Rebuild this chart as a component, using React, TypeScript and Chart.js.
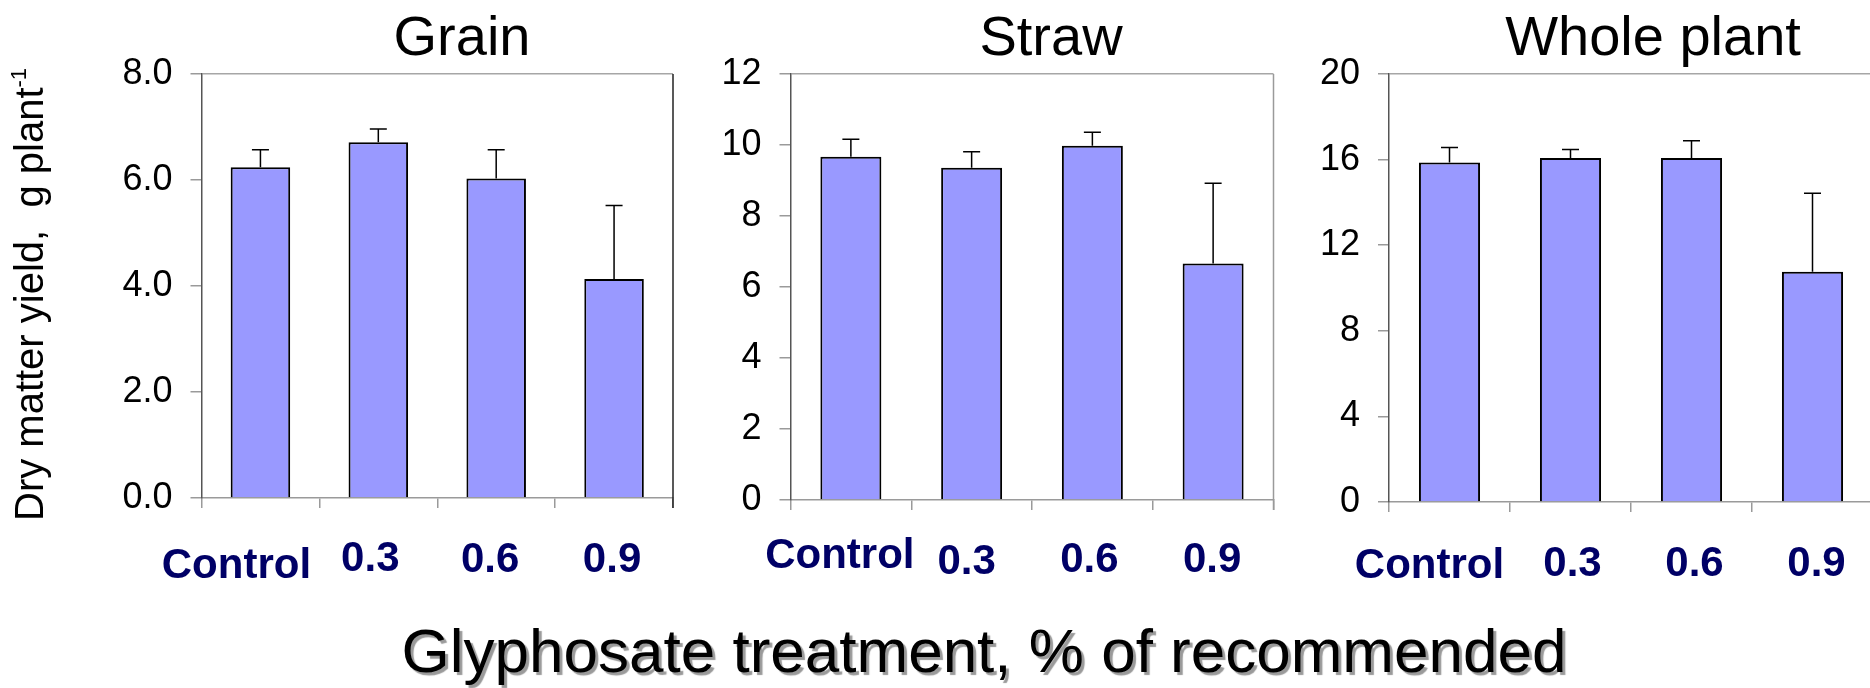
import React, { useEffect, useRef } from 'react';
import { Chart, registerables } from 'chart.js';

Chart.register(...registerables);

// Treatment categories (glyphosate, % of recommended rate)
const categories = ['Control', '0.3', '0.6', '0.9'];

// Dry matter yield (g plant-1), means and upper standard errors
const grainValues = [6.24, 6.71, 6.03, 4.13];
const grainErrors = [0.33, 0.25, 0.54, 1.39];
const strawValues = [9.67, 9.36, 9.98, 6.66];
const strawErrors = [0.49, 0.45, 0.38, 2.26];
const wholeValues = [15.86, 16.07, 16.07, 10.76];
const wholeErrors = [0.71, 0.4, 0.81, 3.67];

// Y-axis tick values for each panel
const grainTicks = [0, 2, 4, 6, 8];
const strawTicks = [0, 2, 4, 6, 8, 10, 12];
const wholeTicks = [0, 4, 8, 12, 16, 20];

const panelTitles = ['Grain', 'Straw', 'Whole plant'];
const yAxisTitle = 'Dry matter yield,  g plant';
const yAxisTitleSup = '-1';
const xAxisTitle = 'Glyphosate treatment, % of recommended';

const PAGE_W = 1870;
const PAGE_H = 688;
const CANVAS_W = 1880;
const FONT = '"Liberation Sans", Arial, Helvetica, sans-serif';
const Y_AXIS_W = 100;
const X_AXIS_H = 20;

type PanelCfg = {
  title: string;
  values: number[];
  errors: number[];
  ticks: number[];
  decimals: number;
  area: { left: number; right: number; top: number; bottom: number };
  rightBorder: string;
  labelDx: number[];
  labelBaseline: number[];
  titleX: number;
};

const panels: PanelCfg[] = [
  {
    title: panelTitles[0],
    values: grainValues,
    errors: grainErrors,
    ticks: grainTicks,
    decimals: 1,
    area: { left: 201.5, right: 673, top: 74, bottom: 498 },
    rightBorder: '#222222',
    labelDx: [-24, -8, -6, -2],
    labelBaseline: [578, 571, 572, 572],
    titleX: 462,
  },
  {
    title: panelTitles[1],
    values: strawValues,
    errors: strawErrors,
    ticks: strawTicks,
    decimals: 0,
    area: { left: 790.5, right: 1273.5, top: 74, bottom: 500 },
    rightBorder: '#9a9a9a',
    labelDx: [-11, -5, -3, -1],
    labelBaseline: [568, 574, 572, 572],
    titleX: 1051,
  },
  {
    title: panelTitles[2],
    values: wholeValues,
    errors: wholeErrors,
    ticks: wholeTicks,
    decimals: 0,
    area: { left: 1389, right: 1873, top: 74, bottom: 502 },
    rightBorder: '#9a9a9a',
    labelDx: [-20, 2, 3, 4],
    labelBaseline: [578, 576, 576, 576],
    titleX: 1653,
  },
];

function BarPanel({ cfg }: { cfg: PanelCfg }) {
  const ref = useRef<HTMLCanvasElement>(null);

  useEffect(() => {
    const canvas = ref.current;
    if (!canvas) return;
    const max = cfg.ticks[cfg.ticks.length - 1];

    // Upper error bars with a short cap
    const errorBars = {
      id: 'errorBars',
      afterDatasetsDraw(chart: any) {
        const ctx = chart.ctx;
        const yScale = chart.scales.y;
        const meta = chart.getDatasetMeta(0);
        ctx.save();
        ctx.strokeStyle = '#000000';
        ctx.lineWidth = 1.5;
        meta.data.forEach((bar: any, i: number) => {
          const top = yScale.getPixelForValue(cfg.values[i] + cfg.errors[i]);
          ctx.beginPath();
          ctx.moveTo(bar.x, bar.y);
          ctx.lineTo(bar.x, top);
          ctx.moveTo(bar.x - 8.5, top);
          ctx.lineTo(bar.x + 8.5, top);
          ctx.stroke();
        });
        ctx.restore();
      },
    };

    // Right-hand frame line and the bold category labels
    const frameAndLabels = {
      id: 'frameAndLabels',
      afterDraw(chart: any) {
        const ctx = chart.ctx;
        const area = chart.chartArea;
        const xScale = chart.scales.x;
        ctx.save();
        ctx.strokeStyle = cfg.rightBorder;
        ctx.lineWidth = 1.5;
        ctx.beginPath();
        ctx.moveTo(area.right, area.top);
        ctx.lineTo(area.right, area.bottom + 10);
        ctx.stroke();

        ctx.fillStyle = '#000066';
        ctx.font = `bold 42px ${FONT}`;
        ctx.textAlign = 'center';
        ctx.textBaseline = 'alphabetic';
        categories.forEach((label, i) => {
          const x = xScale.getPixelForValue(i) + cfg.labelDx[i];
          ctx.fillText(label, x, cfg.labelBaseline[i]);
        });
        ctx.restore();
      },
    };

    const chart = new Chart(canvas, {
      type: 'bar',
      data: {
        labels: categories,
        datasets: [
          {
            data: cfg.values,
            backgroundColor: '#9999ff',
            borderColor: '#000000',
            borderWidth: 2,
            barPercentage: 0.505,
            categoryPercentage: 1,
          },
        ],
      },
      options: {
        responsive: false,
        animation: false,
        devicePixelRatio: 1,
        events: [],
        layout: {
          padding: {
            left: cfg.area.left - Y_AXIS_W,
            right: CANVAS_W - cfg.area.right,
            top: cfg.area.top,
            bottom: PAGE_H - cfg.area.bottom - X_AXIS_H,
          },
        },
        plugins: {
          legend: { display: false },
          tooltip: { enabled: false },
          title: { display: false },
        },
        scales: {
          x: {
            type: 'category',
            offset: true,
            grid: {
              offset: true,
              drawOnChartArea: false,
              drawTicks: true,
              tickLength: 10,
              color: '#9a9a9a',
              tickColor: '#9a9a9a',
              lineWidth: 1.5,
            },
            border: { display: true, color: '#9a9a9a', width: 1.5 },
            ticks: { display: false },
            afterFit: (s: any) => {
              s.height = X_AXIS_H;
            },
          },
          y: {
            min: 0,
            max,
            afterBuildTicks: (s: any) => {
              s.ticks = cfg.ticks.map((v) => ({ value: v }));
            },
            ticks: {
              color: '#000000',
              padding: 18,
              font: { family: FONT, size: 36 },
              callback: (v: any) => Number(v).toFixed(cfg.decimals),
            },
            grid: {
              color: (c: any) => (c.tick && c.tick.value === max ? '#a6a6a6' : 'rgba(0,0,0,0)'),
              tickColor: '#9a9a9a',
              tickLength: 11,
              lineWidth: 1.5,
            },
            border: { display: true, color: '#555555', width: 1.5 },
            afterFit: (s: any) => {
              s.width = Y_AXIS_W;
            },
          },
        },
      },
      plugins: [errorBars, frameAndLabels],
    });

    return () => chart.destroy();
  }, [cfg]);

  return (
    <canvas
      ref={ref}
      width={CANVAS_W}
      height={PAGE_H}
      style={{ position: 'absolute', left: 0, top: 0, width: CANVAS_W, height: PAGE_H, display: 'block' }}
    />
  );
}

function Caption({ text, x, baseline, size }: { text: string; x: number; baseline: number; size: number }) {
  return (
    <div
      style={{
        position: 'absolute',
        left: x - 400,
        width: 800,
        top: baseline - 0.8465 * size,
        fontFamily: FONT,
        fontSize: size,
        lineHeight: `${size}px`,
        textAlign: 'center',
        color: '#000',
        whiteSpace: 'pre',
      }}
    >
      {text}
    </div>
  );
}

export default function App() {
  return (
    <div
      style={{
        position: 'fixed',
        left: 0,
        top: 0,
        width: PAGE_W,
        height: PAGE_H,
        overflow: 'hidden',
        background: '#ffffff',
      }}
    >
      {panels.map((p) => (
        <BarPanel key={p.title} cfg={p} />
      ))}
      {panels.map((p) => (
        <Caption key={`t-${p.title}`} text={p.title} x={p.titleX} baseline={55} size={56} />
      ))}
      <div
        style={{
          position: 'absolute',
          left: 0,
          top: 0,
          fontFamily: FONT,
          fontSize: 40,
          lineHeight: '40px',
          whiteSpace: 'pre',
          color: '#000',
          transformOrigin: '0 0',
          transform: 'translate(9px, 521px) rotate(-90deg)',
        }}
      >
        {yAxisTitle}
        <span style={{ fontSize: 22, position: 'relative', top: -17 }}>{yAxisTitleSup}</span>
      </div>
      <div
        style={{
          position: 'absolute',
          left: 984 - 800,
          width: 1600,
          top: 672 - 0.8465 * 62,
          fontFamily: FONT,
          fontSize: 62,
          lineHeight: '62px',
          textAlign: 'center',
          color: '#000',
          whiteSpace: 'pre',
          textShadow: '3px 3px 1px #9a9a9a',
        }}
      >
        {xAxisTitle}
      </div>
    </div>
  );
}
